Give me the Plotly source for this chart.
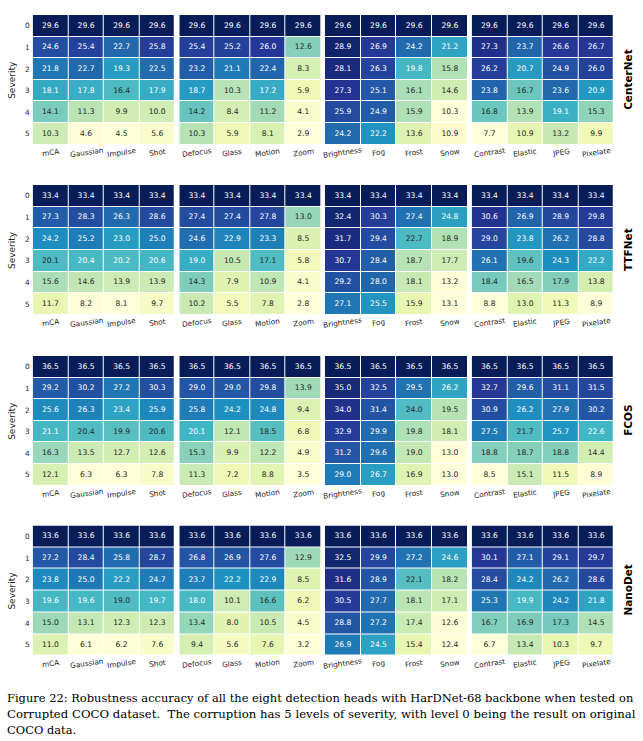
import plotly.graph_objects as go

W, H = 643, 741

models = ["CenterNet", "TTFNet", "FCOS", "NanoDet"]
corruptions = ["mCA", "Gaussian", "Impulse", "Shot",
               "Defocus", "Glass", "Motion", "Zoom",
               "Brightness", "Fog", "Frost", "Snow",
               "Contrast", "Elastic", "JPEG", "Pixelate"]
severity = [0, 1, 2, 3, 4, 5]

centernet = [
    [29.6] * 16,
    [24.6, 25.4, 22.7, 25.8, 25.4, 25.2, 26.0, 12.6, 28.9, 26.9, 24.2, 21.2, 27.3, 23.7, 26.6, 26.7],
    [21.8, 22.7, 19.3, 22.5, 23.2, 21.1, 22.4, 8.3, 28.1, 26.3, 19.8, 15.8, 26.2, 20.7, 24.9, 26.0],
    [18.1, 17.8, 16.4, 17.9, 18.7, 10.3, 17.2, 5.9, 27.3, 25.1, 16.1, 14.6, 23.8, 16.7, 23.6, 20.9],
    [14.1, 11.3, 9.9, 10.0, 14.2, 8.4, 11.2, 4.1, 25.9, 24.9, 15.9, 10.3, 16.8, 13.9, 19.1, 15.3],
    [10.3, 4.6, 4.5, 5.6, 10.3, 5.9, 8.1, 2.9, 24.2, 22.2, 13.6, 10.9, 7.7, 10.9, 13.2, 9.9],
]
ttfnet = [
    [33.4] * 16,
    [27.3, 28.3, 26.3, 28.6, 27.4, 27.4, 27.8, 13.0, 32.4, 30.3, 27.4, 24.8, 30.6, 26.9, 28.9, 29.8],
    [24.2, 25.2, 23.0, 25.0, 24.6, 22.9, 23.3, 8.5, 31.7, 29.4, 22.7, 18.9, 29.0, 23.8, 26.2, 28.8],
    [20.1, 20.4, 20.2, 20.6, 19.0, 10.5, 17.1, 5.8, 30.7, 28.4, 18.7, 17.7, 26.1, 19.6, 24.3, 22.2],
    [15.6, 14.6, 13.9, 13.9, 14.3, 7.9, 10.9, 4.1, 29.2, 28.0, 18.1, 13.2, 18.4, 16.5, 17.9, 13.8],
    [11.7, 8.2, 8.1, 9.7, 10.2, 5.5, 7.8, 2.8, 27.1, 25.5, 15.9, 13.1, 8.8, 13.0, 11.3, 8.9],
]
fcos = [
    [36.5] * 16,
    [29.2, 30.2, 27.2, 30.3, 29.0, 29.0, 29.8, 13.9, 35.0, 32.5, 29.5, 26.2, 32.7, 29.6, 31.1, 31.5],
    [25.6, 26.3, 23.4, 25.9, 25.8, 24.2, 24.8, 9.4, 34.0, 31.4, 24.0, 19.5, 30.9, 26.2, 27.9, 30.2],
    [21.1, 20.4, 19.9, 20.6, 20.1, 12.1, 18.5, 6.8, 32.9, 29.9, 19.8, 18.1, 27.5, 21.7, 25.7, 22.6],
    [16.3, 13.5, 12.7, 12.6, 15.3, 9.9, 12.2, 4.9, 31.2, 29.6, 19.0, 13.0, 18.8, 18.7, 18.8, 14.4],
    [12.1, 6.3, 6.3, 7.8, 11.3, 7.2, 8.8, 3.5, 29.0, 26.7, 16.9, 13.0, 8.5, 15.1, 11.5, 8.9],
]
nanodet = [
    [33.6] * 16,
    [27.2, 28.4, 25.8, 28.7, 26.8, 26.9, 27.6, 12.9, 32.5, 29.9, 27.2, 24.6, 30.1, 27.1, 29.1, 29.7],
    [23.8, 25.0, 22.2, 24.7, 23.7, 22.2, 22.9, 8.5, 31.6, 28.9, 22.1, 18.2, 28.4, 24.2, 26.2, 28.6],
    [19.6, 19.6, 19.0, 19.7, 18.0, 10.1, 16.6, 6.2, 30.5, 27.7, 18.1, 17.1, 25.3, 19.9, 24.2, 21.8],
    [15.0, 13.1, 12.3, 12.3, 13.4, 8.0, 10.5, 4.5, 28.8, 27.2, 17.4, 12.6, 16.7, 16.9, 17.3, 14.5],
    [11.0, 6.1, 6.2, 7.6, 9.4, 5.6, 7.6, 3.2, 26.9, 24.5, 15.4, 12.4, 6.7, 13.4, 10.3, 9.7],
]
all_data = [centernet, ttfnet, fcos, nanodet]

caption_lines = [
    "Figure 22: Robustness accuracy of all the eight detection heads with HarDNet-68 backbone when tested on",
    "Corrupted COCO dataset.  The corruption has 5 levels of severity, with level 0 being the result on original",
    "COCO data.",
]

YLGNBU = [(255, 255, 217), (237, 248, 177), (199, 233, 180), (127, 205, 187), (65, 182, 196),
          (29, 145, 192), (34, 94, 168), (37, 52, 148), (8, 29, 88)]
colorscale = [[i / 8, "rgb(%d,%d,%d)" % c] for i, c in enumerate(YLGNBU)]


def cmap(t):
    # emulate matplotlib 256-entry LUT
    idx = min(int(t * 256), 255)
    t = idx / 255
    s = t * 8
    i = min(int(s), 7)
    f = s - i
    a, b = YLGNBU[i], YLGNBU[i + 1]
    return [(a[k] + (b[k] - a[k]) * f) / 255 for k in range(3)]


def lum(rgb):
    lin = [c / 12.92 if c <= 0.03928 else ((c + 0.055) / 1.055) ** 2.4 for c in rgb]
    return 0.2126 * lin[0] + 0.7152 * lin[1] + 0.0722 * lin[2]


block_x = [(32.7, 175.0), (179.3, 321.0), (325.0, 467.7), (471.7, 614.0)]
model_y = [(15.0, 144.7), (185.0, 315.0), (356.0, 485.7), (525.5, 655.7)]

TICK = "#262626"
FONT = "DejaVu Sans"

fig = go.Figure()
layout = {}
annotations = []


def px_x(x):
    return x / W


def px_y(y):
    return 1 - y / H


for m, data in enumerate(all_data):
    y0, y1 = model_y[m]
    rh = (y1 - y0) / 6
    for b in range(4):
        k = m * 4 + b + 1
        xa = "x" if k == 1 else "x%d" % k
        ya = "y" if k == 1 else "y%d" % k
        cols = corruptions[4 * b:4 * b + 4]
        z = [row[4 * b:4 * b + 4] for row in data]
        flat = [v for r in z for v in r]
        zmin, zmax = min(flat), max(flat)
        fig.add_trace(go.Heatmap(
            x=cols, y=severity, z=z, zmin=zmin, zmax=zmax, colorscale=colorscale,
            showscale=False, xgap=1, ygap=1, hoverinfo="skip", xaxis=xa, yaxis=ya))
        tx, ty, tt, tc = [], [], [], []
        for i, s in enumerate(severity):
            for j, c in enumerate(cols):
                v = z[i][j]
                t = (v - zmin) / (zmax - zmin) if zmax > zmin else 0
                tx.append(c)
                ty.append(s)
                tt.append("%.1f" % v)
                tc.append("#262626" if lum(cmap(t)) > 0.408 else "#ffffff")
        fig.add_trace(go.Scatter(
            x=tx, y=ty, text=tt, mode="text", textposition="middle center",
            textfont=dict(family=FONT, size=7.6, color=tc), hoverinfo="skip",
            showlegend=False, xaxis=xa, yaxis=ya))
        x0, x1 = block_x[b]
        layout["xaxis" if k == 1 else "xaxis%d" % k] = dict(
            domain=[px_x(x0), px_x(x1)], anchor=ya, type="category", range=[-0.5, 3.5],
            showgrid=False, zeroline=False, showline=False, ticks="", showticklabels=False,
            automargin=False, fixedrange=True)
        layout["yaxis" if k == 1 else "yaxis%d" % k] = dict(
            domain=[px_y(y1), px_y(y0)], anchor=xa, range=[5.5, -0.5],
            showticklabels=False, showgrid=False, zeroline=False, showline=False, ticks="",
            automargin=False, fixedrange=True)
        # column labels
        cw = (x1 - x0) / 4
        for j, c in enumerate(cols):
            annotations.append(dict(
                text=c, x=px_x(x0 + cw * (j + 0.5)), y=px_y(y1 + 7.5), xref="paper",
                yref="paper", showarrow=False, xanchor="center", yanchor="middle",
                textangle=-8, font=dict(family=FONT, size=7.3, color=TICK)))
    # severity tick labels
    for i, s in enumerate(severity):
        annotations.append(dict(
            text=str(s), x=px_x(27.5), y=px_y(y0 + rh * (i + 0.5)), xref="paper", yref="paper",
            showarrow=False, xanchor="center", yanchor="middle",
            font=dict(family=FONT, size=7.3, color=TICK)))
    yc = px_y((y0 + y1) / 2)
    annotations.append(dict(text="Severity", x=px_x(12), y=yc, xref="paper", yref="paper",
                            textangle=-90, showarrow=False, xanchor="center", yanchor="middle",
                            font=dict(family=FONT, size=9, color=TICK)))
    annotations.append(dict(text="<b>%s</b>" % models[m], x=px_x(628), y=yc, xref="paper",
                            yref="paper", textangle=-90, showarrow=False, xanchor="center",
                            yanchor="middle", font=dict(family=FONT, size=10.5, color="#000000")))

caption_sizes = [11.45, 11.7, 11.45]
for i, line in enumerate(caption_lines):
    annotations.append(dict(text=line, x=px_x(5), y=px_y(698 + 16 * i), xref="paper",
                            yref="paper", showarrow=False, xanchor="left", yanchor="middle",
                            font=dict(family="DejaVu Serif", size=caption_sizes[i],
                                      color="#000000")))

fig.update_layout(template="none", width=W, height=H, margin=dict(l=0, r=0, t=0, b=0),
                  paper_bgcolor="white", plot_bgcolor="white", showlegend=False,
                  annotations=annotations, **layout)
fig.write_html("out.html", config={"displayModeBar": False},
               post_script="document.body.style.margin='0';document.body.style.padding='0';")
